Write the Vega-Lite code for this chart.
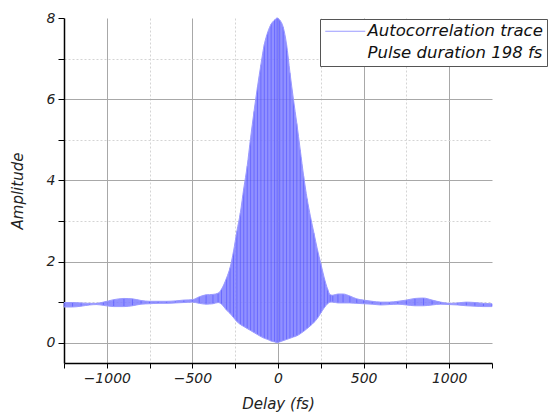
{
  "$schema": "https://vega.github.io/schema/vega-lite/v6.json",
  "width": 428,
  "height": 345,
  "autosize": {"type": "none"},
  "padding": {"left": 64, "top": 18, "right": 59, "bottom": 53},
  "background": "white",
  "config": {
    "view": {"stroke": null},
    "font": "DejaVu Sans",
    "axis": {
      "domainColor": "black",
      "domainWidth": 1.5,
      "tickColor": "black",
      "tickWidth": 1,
      "labelFont": "DejaVu Sans",
      "labelFontStyle": "italic",
      "labelFontSize": 14,
      "labelColor": "#222",
      "titleFont": "DejaVu Sans",
      "titleFontStyle": "italic",
      "titleFontWeight": "normal",
      "titleFontSize": 15,
      "titleColor": "#222"
    }
  },
  "data": {
    "values": [
      {"d": -1250, "hi": 0.99, "lo": 0.88},
      {"d": -1200, "hi": 0.99, "lo": 0.88},
      {"d": -1150, "hi": 0.98, "lo": 0.9},
      {"d": -1100, "hi": 0.97, "lo": 0.93},
      {"d": -1060, "hi": 0.97, "lo": 0.94},
      {"d": -1020, "hi": 1.0, "lo": 0.92},
      {"d": -960, "hi": 1.06, "lo": 0.89},
      {"d": -900, "hi": 1.09, "lo": 0.89},
      {"d": -850, "hi": 1.08, "lo": 0.91},
      {"d": -800, "hi": 1.04, "lo": 0.95},
      {"d": -750, "hi": 1.02, "lo": 0.96},
      {"d": -700, "hi": 1.02, "lo": 0.97},
      {"d": -650, "hi": 1.02, "lo": 0.97},
      {"d": -600, "hi": 1.03, "lo": 0.98},
      {"d": -550, "hi": 1.05, "lo": 0.99},
      {"d": -500, "hi": 1.06, "lo": 1.0},
      {"d": -460, "hi": 1.13, "lo": 0.97},
      {"d": -420, "hi": 1.18, "lo": 0.95},
      {"d": -380, "hi": 1.19, "lo": 0.96},
      {"d": -350, "hi": 1.22, "lo": 0.99},
      {"d": -330, "hi": 1.32, "lo": 0.95},
      {"d": -300, "hi": 1.6, "lo": 0.8},
      {"d": -280, "hi": 1.85, "lo": 0.72},
      {"d": -260, "hi": 2.25, "lo": 0.62},
      {"d": -240, "hi": 2.75, "lo": 0.52},
      {"d": -220, "hi": 3.2, "lo": 0.45},
      {"d": -200, "hi": 3.8, "lo": 0.4},
      {"d": -180, "hi": 4.35, "lo": 0.35},
      {"d": -160, "hi": 5.05, "lo": 0.3},
      {"d": -140, "hi": 5.7, "lo": 0.25},
      {"d": -120, "hi": 6.3, "lo": 0.2},
      {"d": -100, "hi": 6.85, "lo": 0.15},
      {"d": -80, "hi": 7.35, "lo": 0.11},
      {"d": -60, "hi": 7.65, "lo": 0.08},
      {"d": -40, "hi": 7.85, "lo": 0.04},
      {"d": -20, "hi": 7.95, "lo": 0.02},
      {"d": -5, "hi": 8.0, "lo": 0.0},
      {"d": 10, "hi": 7.95, "lo": 0.02},
      {"d": 30, "hi": 7.78, "lo": 0.05},
      {"d": 50, "hi": 7.35, "lo": 0.08},
      {"d": 70, "hi": 6.65, "lo": 0.11},
      {"d": 90, "hi": 6.0, "lo": 0.14},
      {"d": 110, "hi": 5.4, "lo": 0.17},
      {"d": 130, "hi": 4.75, "lo": 0.22},
      {"d": 150, "hi": 4.1, "lo": 0.28},
      {"d": 170, "hi": 3.55, "lo": 0.35},
      {"d": 190, "hi": 3.1, "lo": 0.42},
      {"d": 210, "hi": 2.7, "lo": 0.5},
      {"d": 230, "hi": 2.3, "lo": 0.6},
      {"d": 250, "hi": 1.95, "lo": 0.73},
      {"d": 270, "hi": 1.6, "lo": 0.86},
      {"d": 290, "hi": 1.32, "lo": 0.96},
      {"d": 305, "hi": 1.18, "lo": 1.0},
      {"d": 320, "hi": 1.17, "lo": 1.0},
      {"d": 350, "hi": 1.2, "lo": 0.98},
      {"d": 380, "hi": 1.2, "lo": 0.98},
      {"d": 420, "hi": 1.15, "lo": 0.98},
      {"d": 460, "hi": 1.08, "lo": 0.97},
      {"d": 500, "hi": 1.05, "lo": 0.96},
      {"d": 550, "hi": 1.02, "lo": 0.95},
      {"d": 600, "hi": 1.0, "lo": 0.93},
      {"d": 650, "hi": 1.0, "lo": 0.94},
      {"d": 700, "hi": 1.02, "lo": 0.95},
      {"d": 750, "hi": 1.05, "lo": 0.93},
      {"d": 800, "hi": 1.09, "lo": 0.91},
      {"d": 850, "hi": 1.1, "lo": 0.91},
      {"d": 900, "hi": 1.05, "lo": 0.93},
      {"d": 950, "hi": 1.0, "lo": 0.95},
      {"d": 1000, "hi": 0.97, "lo": 0.94},
      {"d": 1050, "hi": 0.98, "lo": 0.93},
      {"d": 1100, "hi": 1.0, "lo": 0.91},
      {"d": 1150, "hi": 0.99, "lo": 0.9},
      {"d": 1200, "hi": 0.97, "lo": 0.89},
      {"d": 1250, "hi": 0.96, "lo": 0.89}
    ]
  },
  "encoding": {
    "x": {
      "field": "d",
      "type": "quantitative",
      "scale": {"domain": [-1250, 1250], "nice": false, "zero": false},
      "axis": {
        "title": "Delay (fs)",
        "format": "d",
        "values": [-1250, -1000, -750, -500, -250, 0, 250, 500, 750, 1000, 1250],
        "labelExpr": "(datum.value % 500 === 0 && abs(datum.value) <= 1000) ? datum.label : ''",
        "grid": true,
        "gridColor": {"condition": {"test": "datum.value % 500 === 0", "value": "#a8a8a8"}, "value": "#d4d4d4"},
        "gridDash": {"condition": {"test": "datum.value % 500 === 0", "value": []}, "value": [2, 2]},
        "gridOpacity": {"condition": {"test": "abs(datum.value) === 1250", "value": 0}, "value": 1},
        "tickSize": 5,
        "labelPadding": 3,
        "titlePadding": 11,
        "labelFlush": false,
        "labelOverlap": false
      }
    }
  },
  "layer": [
    {
      "mark": {"type": "area", "color": "#7c7cff", "opacity": 0.85, "interpolate": "monotone"},
      "encoding": {
        "y": {
          "field": "hi",
          "type": "quantitative",
          "scale": {"domain": [-0.5, 8], "nice": false, "zero": false},
          "axis": {
            "title": "Amplitude",
            "values": [0, 1, 2, 3, 4, 5, 6, 7, 8],
            "labelExpr": "datum.value % 2 === 0 ? datum.label : ''",
            "grid": true,
            "gridColor": {"condition": {"test": "datum.value % 2 === 0", "value": "#a8a8a8"}, "value": "#d4d4d4"},
            "gridDash": {"condition": {"test": "datum.value % 2 === 0", "value": []}, "value": [2, 2]},
            "gridOpacity": {"condition": {"test": "datum.value === 8", "value": 0}, "value": 1},
            "tickSize": 6,
            "labelPadding": 3,
            "titlePadding": 21,
            "labelFlush": false,
            "labelOverlap": false
          }
        },
        "y2": {"field": "lo"}
      }
    },
    {
      "mark": {"type": "rule", "color": "#4a4aff", "strokeWidth": 1, "opacity": 0.55},
      "encoding": {
        "y": {"field": "hi", "type": "quantitative"},
        "y2": {"field": "lo"}
      }
    },
    {
      "mark": {"type": "line", "strokeWidth": 1, "interpolate": "monotone"},
      "encoding": {
        "y": {"field": "hi", "type": "quantitative"},
        "color": {
          "datum": "Autocorrelation trace",
          "type": "nominal",
          "scale": {"domain": ["Autocorrelation trace", "Pulse duration 198 fs"], "range": ["#9a9aff", "rgba(0,0,0,0)"]},
          "legend": {
            "title": null,
            "orient": "none",
            "legendX": 256,
            "legendY": 1,
            "direction": "vertical",
            "symbolType": "M-4,0H4",
            "symbolSize": 100,
            "symbolStrokeWidth": 1,
            "symbolFillColor": "transparent",
            "symbolOffset": 13,
            "labelOffset": 14,
            "labelFont": "DejaVu Sans",
            "labelFontStyle": "italic",
            "labelFontSize": 16.5,
            "labelColor": "#111",
            "labelLimit": 400,
            "padding": 4,
            "rowPadding": 5,
            "strokeColor": "#555",
            "fillColor": "white"
          }
        }
      }
    },
    {
      "mark": {"type": "line", "strokeWidth": 1, "color": "#9a9aff", "interpolate": "monotone"},
      "encoding": {
        "y": {"field": "lo", "type": "quantitative"}
      }
    }
  ]
}
